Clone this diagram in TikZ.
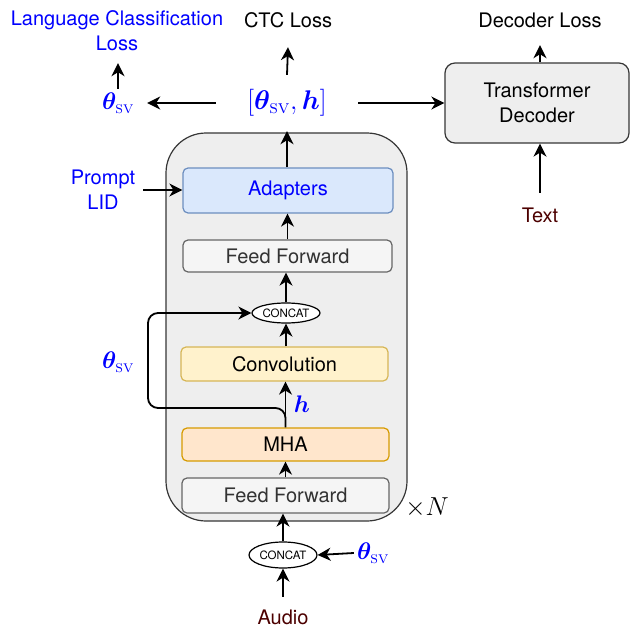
\RequirePackage{fix-cm}
\documentclass[tikz,border=0pt]{standalone}
\usepackage{fontspec}
\usepackage{amsmath,bm}
\newfontfamily\hel{TeX Gyre Heros}
\usetikzlibrary{arrows.meta,shapes.geometric}
\definecolor{tblue}{HTML}{0000FF}
\definecolor{dred}{HTML}{4C0000}
\definecolor{outfill}{HTML}{EEEEEE}
\definecolor{outdraw}{HTML}{363636}
\definecolor{adfill}{HTML}{DAE8FC}
\definecolor{addraw}{HTML}{6C8EBF}
\definecolor{fffill}{HTML}{F5F5F5}
\definecolor{ffdraw}{HTML}{666666}
\definecolor{fftext}{HTML}{333333}
\definecolor{cvfill}{HTML}{FFF2CC}
\definecolor{cvdraw}{HTML}{D6B656}
\definecolor{mhfill}{HTML}{FFE6CC}
\definecolor{mhdraw}{HTML}{D79B00}
\newcommand{\thsv}{\bm{\theta}_{\text{\textsc{sv}}}}
\begin{document}
\begin{tikzpicture}[x=1pt,y=-1pt,
  txt/.style={font=\hel\fontsize{20}{25}\selectfont, text=black},
  arr/.style={line width=1.8pt, -{Stealth[length=13pt,width=13pt,inset=4pt]}},
  blk/.style={draw, rounded corners=5pt, line width=1.2pt, minimum width=207pt, minimum height=34pt, font=\hel\fontsize{20}{25}\selectfont},
  cc/.style={ellipse, draw, line width=1.2pt, fill=white, font=\hel\fontsize{11.5}{12}\selectfont, inner sep=0pt, minimum width=68pt},
  mth/.style={text=tblue, font=\fontsize{24}{28}\selectfont}
]
\useasboundingbox (0,0) rectangle (630,629);
% encoder block
\node[draw=outdraw, fill=outfill, rounded corners=40pt, minimum width=241pt, minimum height=388pt, line width=1.2pt] (enc) at (286.5,327) {};
\node[blk, draw=addraw, fill=adfill, text=tblue, minimum width=210pt, minimum height=45pt] (ad) at (288,190.5) {Adapters};
\node[blk, draw=ffdraw, fill=fffill, text=fftext, minimum width=209pt, minimum height=32pt] (fft) at (287.5,256) {Feed Forward};
\node[cc, minimum height=20pt] (c1) at (286,313) {CONCAT};
\node[blk, draw=cvdraw, fill=cvfill, minimum height=34pt] (cv) at (284.5,364) {Convolution};
\node[blk, draw=mhdraw, fill=mhfill, minimum height=33pt] (mha) at (285.5,444.5) {MHA};
\node[blk, draw=ffdraw, fill=fffill, text=fftext, minimum height=35pt] (ffb) at (285.5,495.5) {Feed Forward};
\node[mth, text=black, font=\fontsize{26}{30}\selectfont] (xn) at (427,508) {$\times N$};
% below
\node[cc, minimum height=26pt] (c2) at (283,555) {CONCAT};
\node[txt, text=dred, minimum height=40pt] (au) at (283,617) {Audio};
\node[mth, inner sep=0pt, minimum width=38pt] (thB) at (373,553) {$\thsv$};
% top
\node[mth, font=\fontsize{27}{30}\selectfont, minimum width=142pt, minimum height=56pt] (lab) at (287,103) {$[\thsv,\bm{h}]$};
\node[txt, minimum height=54pt] (ctc) at (288,20) {CTC Loss};
\node[mth, minimum width=58pt, minimum height=28pt] (thL) at (118,103) {$\thsv$};
\node[txt, text=tblue, align=center, minimum height=64pt] (lcl) at (117,31) {Language Classification\\Loss};
\node[txt, text=tblue, align=center, minimum width=80pt] (pl) at (103,190) {Prompt\\LID};
% decoder
\node[txt, draw=outdraw, fill=outfill, line width=1.2pt, rounded corners=10pt, minimum width=184pt, minimum height=80pt, align=center] (dec) at (537,103) {Transformer\\Decoder};
\node[txt, minimum height=50pt] (dl) at (540,20) {Decoder Loss};
\node[txt, text=dred, minimum height=44pt] (tx) at (540,215) {Text};
% labels inside
\node[mth] (hl) at (302,404) {$\bm{h}$};
\node[mth] (thM) at (118,362) {$\thsv$};
\coordinate (bk1) at (148,408);
% arrows
\draw[arr] (au.north) -- (c2.south);
\draw[arr] (thB.west) -- (c2.east);
\draw[arr] (c2.north) -- (c2.north |- ffb.south);
\draw[arr] (ffb.north) -- (ffb.north |- mha.south);
\draw[arr] (mha.north) -- (mha.north |- cv.south);
\draw[arr, rounded corners=10pt] (mha.north) |- (bk1) |- (c1.west);
\draw[arr] (c1.south |- cv.north) -- (c1.south);
\draw[arr] (c1.north) -- (c1.north |- fft.south);
\draw[arr] (fft.north) -- (fft.north |- ad.south);
\draw[arr] (ad.north -| lab.south) -- (lab.south);
\draw[arr] (pl.east) -- (pl.east -| ad.west);
\draw[arr] (lab.north) -- (ctc.south);
\draw[arr] (lab.west) -- (thL.east);
\draw[arr] (thL.north) -- (thL.north |- lcl.south);
\draw[arr] (lab.east) -- (lab.east -| dec.west);
\draw[arr] (tx.north) -- (tx.north |- dec.south);
\draw[arr] (dl.south |- dec.north) -- (dl.south);
\end{tikzpicture}
\end{document}
